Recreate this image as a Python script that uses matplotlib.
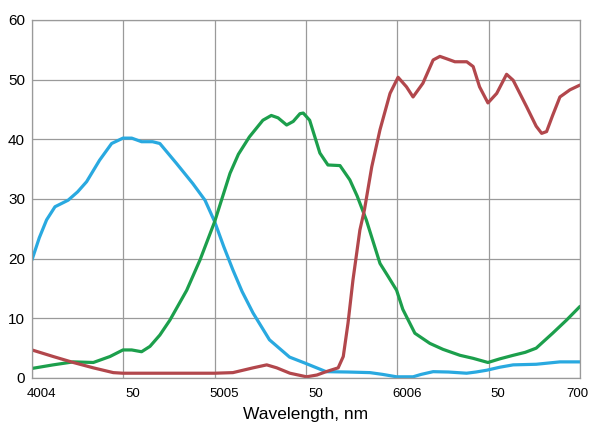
import numpy as np
import matplotlib.pyplot as plt
import matplotlib.transforms as mtransforms

plt.rcParams['font.family'] = ['Liberation Sans', 'DejaVu Sans']

# blue curve
blue_wl = [400, 404, 408, 412.6, 419.8, 425, 429.9, 437, 443.6, 449.8, 454.6, 460, 466, 470,
           479, 488, 494.7, 500, 505, 510, 515, 521, 530, 541, 549.4, 561, 573, 585, 592,
           599.6, 608.6, 613, 619.6, 628, 637.9, 643, 648.9, 656, 663.4, 676, 689, 700]
blue_val = [19.8, 23.5, 26.5, 28.7, 29.8, 31.2, 32.9, 36.5, 39.3, 40.2, 40.2, 39.6, 39.6, 39.3,
            36.0, 32.6, 29.8, 26.2, 22.0, 18.1, 14.5, 10.9, 6.4, 3.5, 2.5, 1.06, 1.0, 0.9, 0.6,
            0.2, 0.2, 0.6, 1.06, 1.0, 0.8, 1.0, 1.3, 1.8, 2.2, 2.3, 2.7, 2.7]

# green curve
green_wl = [400, 411.6, 422.6, 433.6, 442.7, 449.8, 454.6, 460, 464.6, 470, 475.5, 484.7, 492,
            500, 508.4, 513, 519, 526.4, 531, 534.7, 539.4, 543, 546.7, 548.5, 552, 557.6, 562,
            568.6, 574, 578, 583, 590.5, 595, 599.6, 603, 609.6, 617.8, 625, 634.3, 641.4,
            649.6, 656, 663.4, 670, 676, 685, 692.6, 700]
green_val = [1.6, 2.2, 2.7, 2.6, 3.6, 4.7, 4.7, 4.4, 5.3, 7.2, 9.7, 14.7, 19.8,
             26.2, 34.3, 37.5, 40.4, 43.2, 44.0, 43.6, 42.4, 43.0, 44.3, 44.4, 43.2, 37.7, 35.7,
             35.6, 33.2, 30.5, 26.5, 19.2, 17.0, 14.7, 11.5, 7.5, 5.8, 4.8, 3.8, 3.3,
             2.6, 3.2, 3.8, 4.3, 5.0, 7.5, 9.7, 12.0]

# red curve
red_wl = [400, 411.6, 422.6, 433.6, 444.5, 449.8, 460, 480, 500, 510, 521, 528.5, 534, 541.2,
          550.3, 556, 561, 567.6, 570.4, 573, 575.7, 579.5, 582, 586, 590.5, 596, 600.4, 605,
          608.6, 614, 619.6, 623.3, 627, 631.5, 638, 641.5, 645, 649.6, 654.4, 659.8, 663.4,
          670.7, 676, 679, 681.7, 685, 689, 694.5, 700]
red_val = [4.7, 3.6, 2.6, 1.7, 0.9, 0.8, 0.8, 0.8, 0.8, 0.9, 1.7, 2.2, 1.7, 0.8,
           0.2, 0.5, 1.06, 1.7, 3.6, 9.2, 16.4, 24.8, 28.2, 35.4, 41.6, 47.7, 50.4, 48.8,
           47.1, 49.4, 53.3, 53.9, 53.5, 53.0, 53.0, 52.2, 48.8, 46.1, 47.7, 50.9, 49.9,
           45.5, 42.2, 41.0, 41.3, 44.0, 47.1, 48.3, 49.1]

x_ticks = [400, 450, 500, 550, 600, 650, 700]
x_labels = ["4004", "50", "5005", "50", "6006", "50", "700"]
y_ticks = [0, 10, 20, 30, 40, 50, 60]

fig = plt.figure(figsize=(6, 4.29), dpi=100)
ax = fig.add_axes([0.0533, 0.1189, 0.9134, 0.8345])

ax.plot(blue_wl, blue_val, color='#29a9e0', lw=2.3, solid_capstyle='round')
ax.plot(green_wl, green_val, color='#1c9f4c', lw=2.3, solid_capstyle='round')
ax.plot(red_wl, red_val, color='#b2474c', lw=2.3, solid_capstyle='round')

ax.set_xlim(400, 700)
ax.set_ylim(0, 60)
ax.set_xticks(x_ticks)
ax.set_xticklabels(x_labels, fontsize=9.5)
ax.set_yticks(y_ticks)
ax.set_yticklabels([str(v) for v in y_ticks], fontsize=11)
ax.tick_params(length=0, pad=5)
ax.tick_params(axis='x', pad=7)
ax.grid(True, color='#9a9a9a', lw=0.9)
for s in ax.spines.values():
    s.set_color('#9a9a9a')
    s.set_linewidth(0.9)

# labels sit a bit right of the ticks, except the last one
for i, lab in enumerate(ax.get_xticklabels()):
    dx = 9 / 72 if i < len(x_labels) - 1 else -3 / 72
    lab.set_transform(lab.get_transform() +
                      mtransforms.ScaledTranslation(dx * 0.75, 0, fig.dpi_scale_trans))

ax.set_xlabel("Wavelength, nm", fontsize=12.5, labelpad=5)

fig.savefig('out.png', dpi=100)
